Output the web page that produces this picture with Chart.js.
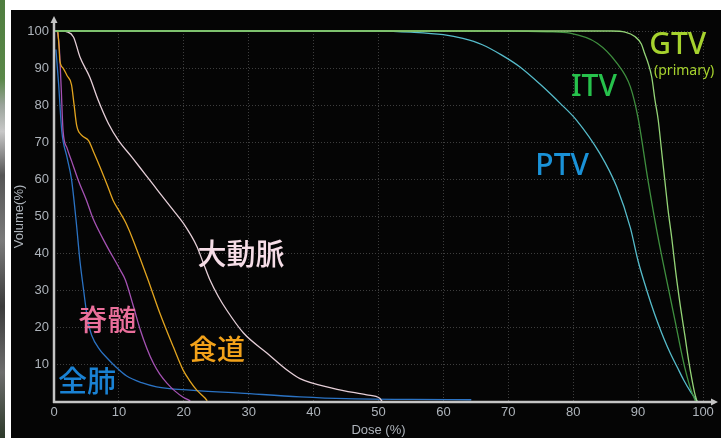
<!DOCTYPE html>
<html>
<head>
<meta charset="utf-8">
<script src="https://cdn.jsdelivr.net/npm/chart.js@4.4.0/dist/chart.umd.min.js"></script>
<style>
  html, body { margin:0; padding:0; background:#ffffff; width:721px; height:438px; overflow:hidden; }
  #strip { position:absolute; left:0; top:0; width:5px; height:438px;
    background: linear-gradient(to bottom, #4f7d3f 0%, #5a8848 18%, #9aa39a 24%, #c8c8c8 30%, #555 40%, #7a7a7a 55%, #3b3b3b 70%, #6d6d6d 85%, #2d3a2a 100%); }
  #wrap { position:absolute; left:11px; top:10px; width:710px; height:428px; background:#050505; }
  canvas { display:block; }
</style>
</head>
<body>
<div id="strip"></div>
<div id="wrap"><canvas id="c" width="710" height="428"></canvas></div>
<script>
// ---- tick labels ----
const doseTicks = [0,10,20,30,40,50,60,70,80,90,100];
const volTicks  = [10,20,30,40,50,60,70,80,90,100];

// ---- series (dose %, volume %) ----
const gtvDose = [0, 86, 88, 89.5, 90.5, 91, 91.6, 92.1, 92.6, 93.1, 93.6, 94.1, 94.6, 95.2, 95.8, 96.5, 97.2, 97.8, 98.3, 98.7, 99.1];
const gtvVol  = [100, 100, 99.7, 98.5, 96.5, 94, 91, 87.6, 81.4, 76, 68, 60, 52, 44, 35, 26, 18, 11, 6, 2.5, 0];

const itvDose = [0, 70, 76, 79.5, 83.7, 86.7, 88.8, 90, 91.5, 92.9, 93.8, 94.8, 95.8, 96.6, 97.3, 98.1, 98.9];
const itvVol  = [100, 100, 99.8, 99.4, 96.7, 91.4, 85, 76.5, 60, 46, 38, 29.5, 21, 14, 8.5, 3.5, 0];

const ptvDose = [0, 50, 55, 60, 63, 66, 69, 71.8, 75, 78, 80.5, 84.1, 86.7, 88.8, 90, 91, 92, 93, 94, 95, 96, 97, 98, 98.8, 99.2];
const ptvVol  = [100, 100, 99.7, 99, 98, 96.3, 93.5, 90.3, 85.5, 80.5, 76, 67, 58, 47, 38, 32, 26.5, 21.5, 17, 13, 9.5, 6, 3, 1, 0];

const lungDose = [0.3, 0.7, 1.2, 2, 2.7, 3.4, 4, 4.5, 5.2, 5.8, 7.1, 8.1, 9.5, 11.2, 13.5, 15.8, 21, 28.7, 37.9, 45, 55, 64.3];
const lungVol  = [95, 86, 73, 66, 60, 49, 38, 31, 22, 18, 14, 12, 9.5, 7, 5.2, 4.1, 3.2, 2.4, 1.4, 0.9, 0.7, 0.6];

const cordDose = [0.5, 0.8, 1.1, 1.4, 2, 2.7, 3.8, 5, 6, 8, 10.2, 11, 12.2, 13.3, 14.3, 15.3, 16.3, 17.4, 18.6, 19.9, 21];
const cordVol  = [100, 96, 85, 73, 68.5, 65, 59.5, 54.4, 49.5, 42.5, 35.6, 32.9, 26, 19.4, 14.5, 10.5, 7.5, 5.1, 3, 1.3, 0.3];

const esoDose = [0.6, 0.8, 0.9, 1.4, 2, 2.7, 3.1, 3.5, 4.2, 5.3, 6.2, 7.1, 8.2, 9.1, 10.2, 11, 12, 13.2, 14.5, 16.3, 18.4, 19.9, 21, 22, 23.3, 23.6];
const esoVol  = [100, 95, 92, 90, 88, 85.5, 80, 74.5, 72, 70.5, 67, 63.3, 58.5, 54.4, 51, 48.5, 44.5, 39, 32.9, 24, 14.8, 8.6, 5.5, 3.2, 1, 0.3];

const aortaDose = [1.7, 3, 4, 5.5, 6.8, 8.4, 9.9, 12, 14, 16, 18, 20, 22, 23, 24, 25.3, 26.6, 29.2, 32.8, 35.9, 37.9, 43, 48.2, 50.2, 50.6];
const aortaVol  = [100, 98.4, 93, 87.6, 81.4, 75, 70.6, 66, 61.5, 57, 52.5, 48, 42, 37.5, 33, 28.5, 24.8, 18.6, 13.2, 8.6, 6.3, 3.7, 1.9, 1, 0];

// ---- structure labels (text, anchor dose, anchor volume) ----
const labelTexts = ['大動脈', '脊髄', '食道', '全肺', 'PTV', 'ITV', 'GTV', '(primary)'];
const labelDose  = [28.8, 8.2, 25.1, 5.1, 78.3, 83.2, 96.1, 97.1];
const labelVol   = [39.9, 22.1, 14.3, 5.7, 63.6, 84.9, 96.2, 89.2];
const labelColors = ['#f6dde7', '#ea6f9b', '#f2a21a', '#1a82d4', '#1a92d8', '#27c24c', '#a6d22e', '#a6d22e'];
const labelFonts  = ['500 29px "Noto Sans CJK JP"', '500 29px "Noto Sans CJK JP"', '500 28px "Noto Sans CJK JP"', '500 29px "Noto Sans CJK JP"',
                     '500 30px "Noto Sans"', '500 30px "Noto Sans"', '500 30px "Noto Sans"', '14px "Noto Sans"'];

function pts(xs, ys) { return xs.map((x, i) => ({x: x, y: ys[i]})); }

const seriesNames = ['GTV', 'ITV', 'PTV', '大動脈', '食道', '脊髄', '全肺'];
const seriesData = [pts(gtvDose, gtvVol), pts(itvDose, itvVol), pts(ptvDose, ptvVol), pts(aortaDose, aortaVol), pts(esoDose, esoVol), pts(cordDose, cordVol), pts(lungDose, lungVol)];
const seriesColors = ['#94d477', '#3f8f3f', '#56bccb', '#e6cfd8', '#e3a51f', '#a552b3', '#2b73c4'];

const axisPlugin = {
  id: 'axesArrows',
  afterDatasetsDraw(chart) {
    const {ctx, chartArea: a} = chart;
    ctx.save();
    ctx.strokeStyle = '#c4c4c4';
    ctx.fillStyle = '#c4c4c4';
    ctx.lineWidth = 2.5;
    ctx.beginPath();
    ctx.moveTo(a.left, a.bottom + 1);
    ctx.lineTo(a.left, a.top - 10);
    ctx.moveTo(a.left - 1, a.bottom);
    ctx.lineTo(a.right + 10, a.bottom);
    ctx.stroke();
    ctx.beginPath();
    ctx.moveTo(a.left, a.top - 15);
    ctx.lineTo(a.left - 3.5, a.top - 8);
    ctx.lineTo(a.left + 3.5, a.top - 8);
    ctx.closePath();
    ctx.fill();
    ctx.beginPath();
    ctx.moveTo(a.right + 15, a.bottom);
    ctx.lineTo(a.right + 8, a.bottom - 3.5);
    ctx.lineTo(a.right + 8, a.bottom + 3.5);
    ctx.closePath();
    ctx.fill();
    ctx.restore();
  }
};

const labelPlugin = {
  id: 'structLabels',
  afterDraw(chart) {
    const {ctx, scales} = chart;
    ctx.save();
    ctx.textAlign = 'center';
    ctx.textBaseline = 'middle';
    labelTexts.forEach((t, i) => {
      ctx.font = labelFonts[i];
      ctx.fillStyle = labelColors[i];
      ctx.fillText(t, scales.x.getPixelForValue(labelDose[i]), scales.y.getPixelForValue(labelVol[i]));
    });
    ctx.restore();
  }
};

new Chart(document.getElementById('c'), {
  type: 'line',
  data: {
    datasets: seriesData.map((d, i) => ({
      label: seriesNames[i],
      data: d,
      borderColor: seriesColors[i],
      borderWidth: 1.3,
      pointRadius: 0,
      fill: false,
      cubicInterpolationMode: 'monotone',
      clip: false
    }))
  },
  options: {
    responsive: false,
    animation: false,
    events: [],
    layout: { padding: { top: 21, right: 18, left: 0, bottom: 0 } },
    plugins: { legend: { display: false }, tooltip: { enabled: false } },
    scales: {
      x: {
        type: 'linear', min: 0, max: 100,
        afterBuildTicks: s => { s.ticks = doseTicks.map(v => ({value: v})); },
        afterFit: s => { s.height = 36; },
        grid: { color: '#3e3e3e', drawTicks: false, lineWidth: 1 },
        border: { display: false, dash: [1, 2] },
        ticks: { color: '#aeb4bb', font: { family: '"Liberation Sans", Arial', size: 13 }, padding: 3, maxRotation: 0, autoSkip: false },
        title: { display: true, text: 'Dose (%)', color: '#aeb4bb', font: { family: '"Liberation Sans", Arial', size: 13 }, padding: { top: 0, bottom: 0 } }
      },
      y: {
        type: 'linear', min: 0, max: 100,
        afterBuildTicks: s => { s.ticks = volTicks.map(v => ({value: v})); },
        afterFit: s => { s.width = 43; },
        grid: { color: '#3e3e3e', drawTicks: false, lineWidth: 1 },
        border: { display: false, dash: [1, 2] },
        ticks: { color: '#aeb4bb', font: { family: '"Liberation Sans", Arial', size: 13 }, padding: 5 },
        title: { display: true, text: 'Volume(%)', color: '#aeb4bb', font: { family: '"Liberation Sans", Arial', size: 13 }, padding: { top: 1, bottom: 0 } }
      }
    }
  },
  plugins: [axisPlugin, labelPlugin]
});
</script>
</body>
</html>
